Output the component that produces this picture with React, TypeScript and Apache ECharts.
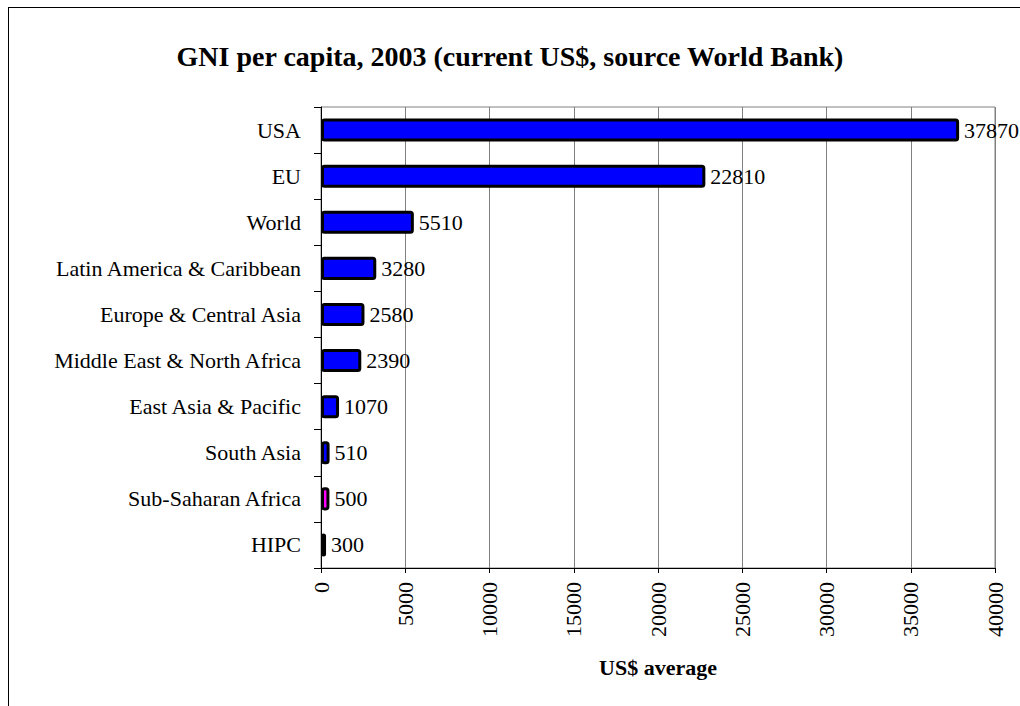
import React, { useEffect, useRef } from "react";
import * as echarts from "echarts";

const categories = [
  "USA",
  "EU",
  "World",
  "Latin America & Caribbean",
  "Europe & Central Asia",
  "Middle East & North Africa",
  "East Asia & Pacific",
  "South Asia",
  "Sub-Saharan Africa",
  "HIPC",
];
const values = [37870, 22810, 5510, 3280, 2580, 2390, 1070, 510, 500, 300];
const highlighted = "Sub-Saharan Africa";

const FONT = "'Liberation Serif', 'Times New Roman', serif";

export default function App() {
  const ref = useRef<HTMLDivElement>(null);
  useEffect(() => {
    if (!ref.current) return;
    const chart = echarts.init(ref.current, null, { renderer: "svg" });
    chart.setOption({
      animation: false,
      backgroundColor: "#ffffff",
      title: {
        text: "GNI per capita, 2003 (current US$, source World Bank)",
        left: "center",
        top: 37,
        textStyle: { fontFamily: FONT, fontSize: 28, fontWeight: "bold", color: "#000" },
      },
      graphic: [
        {
          type: "line",
          shape: { x1: 8, y1: 7.5, x2: 1020, y2: 7.5 },
          style: { stroke: "#000", lineWidth: 1 },
          silent: true,
        },
        {
          type: "line",
          shape: { x1: 8.5, y1: 7, x2: 8.5, y2: 706 },
          style: { stroke: "#000", lineWidth: 1 },
          silent: true,
        },
      ],
      grid: {
        left: 321,
        right: 25,
        top: 107,
        bottom: 138,
        show: true,
        borderColor: "#808080",
        borderWidth: 1,
      },
      xAxis: {
        type: "value",
        min: 0,
        max: 40000,
        interval: 5000,
        name: "US$ average",
        nameLocation: "middle",
        nameGap: 88,
        nameTextStyle: { fontFamily: FONT, fontSize: 22, fontWeight: "bold", color: "#000" },
        axisLine: { show: true, lineStyle: { color: "#000", width: 1 } },
        axisTick: { show: true, length: 5, lineStyle: { color: "#000" } },
        axisLabel: {
          rotate: 90,
          margin: 14,
          fontFamily: FONT,
          fontSize: 22,
          color: "#000",
          formatter: (v: number) => String(v),
        },
        splitLine: { show: true, lineStyle: { color: "#808080", width: 1 } },
      },
      yAxis: {
        type: "category",
        data: categories,
        inverse: true,
        axisLine: { show: true, lineStyle: { color: "#000", width: 1 } },
        axisTick: { show: true, length: 7, lineStyle: { color: "#000" } },
        axisLabel: { margin: 20, fontFamily: FONT, fontSize: 22, color: "#000" },
      },
      series: [
        {
          type: "bar",
          barWidth: "50%",
          data: values.map((v, i) => ({
            value: v,
            itemStyle: {
              color: categories[i] === highlighted ? "#ff00ff" : "#0000ff",
              borderColor: "#000",
              borderWidth: 3,
              borderRadius: 2,
            },
          })),
          label: {
            show: true,
            position: "right",
            distance: 5,
            fontFamily: FONT,
            fontSize: 22,
            color: "#000",
          },
        },
      ],
    });
    return () => chart.dispose();
  }, []);
  return (
    <div
      ref={ref}
      style={{ position: "absolute", left: 0, top: 0, width: 1020, height: 706 }}
    />
  );
}
